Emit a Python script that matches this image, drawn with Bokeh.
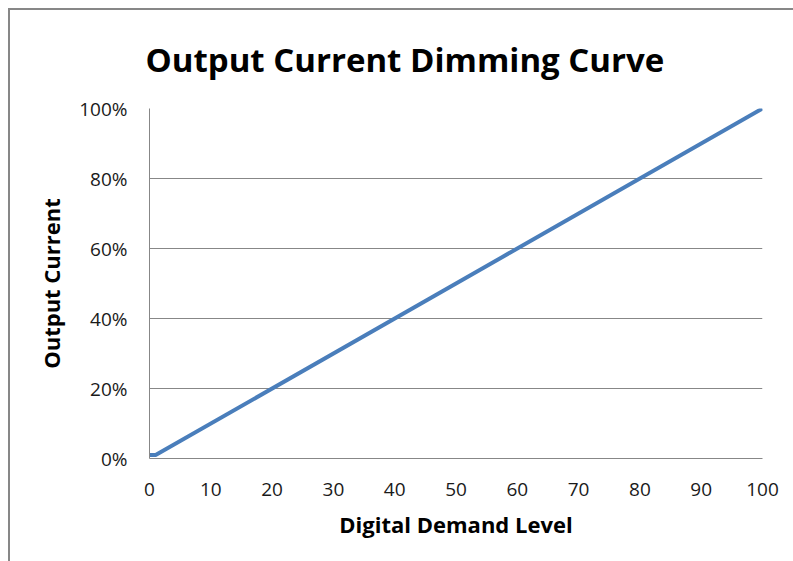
from bokeh.plotting import figure
from bokeh.models import FixedTicker, NumeralTickFormatter, ColumnDataSource
from bokeh.layouts import column
from bokeh.embed import file_html
from bokeh.resources import INLINE

# data
demand_level = [0, 1, 100]
output_current = [0.01, 0.01, 1.00]
x_ticks = [0, 10, 20, 30, 40, 50, 60, 70, 80, 90, 100]
y_ticks = [0, 0.2, 0.4, 0.6, 0.8, 1.0]
title_text = "Output Current Dimming Curve"
x_label = "Digital Demand Level"
y_label = "Output Current"

FONT = "Open Sans"
GRAY = "#878787"

p = figure(width=783, height=551, output_backend="svg", toolbar_location=None,
           x_range=(0, 100), y_range=(0, 1),
           min_border_left=139, min_border_right=31, min_border_top=98, min_border_bottom=103)
p.outline_line_color = None
p.background_fill_color = "white"
p.border_fill_color = "white"

p.title.text = title_text
p.title.align = "left"
p.title.offset = -4
p.title.vertical_align = "top"
p.title.text_font = FONT
p.title.text_font_size = "33px"
p.title.text_font_style = "bold"
p.title.text_color = "black"
p.title.standoff = 50

src = ColumnDataSource(dict(x=demand_level, y=output_current))
p.line("x", "y", source=src, line_color="#4A7EBB", line_width=4)

p.xgrid.visible = False
p.ygrid.ticker = FixedTicker(ticks=y_ticks)
p.ygrid.grid_line_color = GRAY
p.ygrid.grid_line_width = 1

p.xaxis.ticker = FixedTicker(ticks=x_ticks)
p.yaxis.ticker = FixedTicker(ticks=y_ticks)
p.yaxis.formatter = NumeralTickFormatter(format="0%")
for ax in (p.xaxis, p.yaxis):
    ax.major_tick_line_color = None
    ax.minor_tick_line_color = None
    ax.major_tick_out = 0
    ax.major_tick_in = 0
    ax.axis_line_color = GRAY
    ax.major_label_text_font = FONT
    ax.major_label_text_font_size = "19px"
    ax.major_label_text_color = "#1a1a1a"
    ax.axis_label_text_font = FONT
    ax.axis_label_text_font_size = "22px"
    ax.axis_label_text_font_style = "bold"
    ax.axis_label_text_color = "black"
p.xaxis.axis_label = x_label
p.yaxis.axis_label = y_label
p.xaxis.major_label_standoff = 24
p.yaxis.major_label_standoff = 22
p.xaxis.axis_label_standoff = 10
p.yaxis.axis_label_standoff = 10

layout = column(p, styles={"border-left": "2px solid " + GRAY, "border-top": "2px solid " + GRAY,
                           "margin-left": "8px", "margin-top": "8px"})

open("out.html", "w").write(file_html(layout, INLINE))
